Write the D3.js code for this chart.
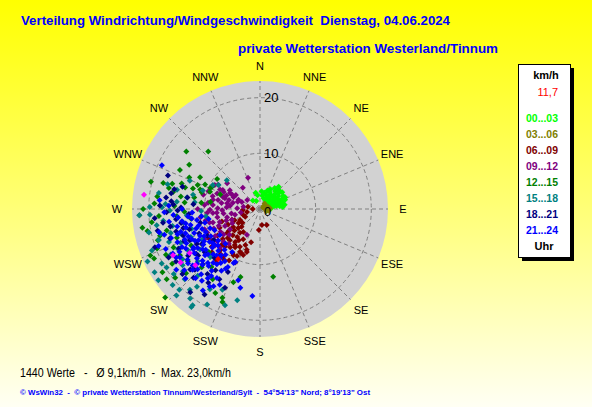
<!DOCTYPE html>
<html>
<head>
<meta charset="utf-8">
<script src="https://cdn.jsdelivr.net/npm/d3@7"></script>
<style>
  html, body { margin: 0; padding: 0; background: #fff; }
  svg { display: block; font-family: "Liberation Sans", Arial, sans-serif; }
</style>
</head>
<body>
<div class="chart"></div>
<script>
// ---- data: [direction in degrees, speed in km/h], one array per 3-hour slot ----
const h00_03 = [[30,3.5],[35,4.6],[40,4.2],[45,3.8],[50,3.2],[55,4.0],[60,3.6],[65,4.4],[70,3.0],[75,3.8],[80,4.5],[85,4.1],
  [38,2.6],[48,2.4],[58,2.8],[68,2.2],[78,2.6],[25,2.8],[20,2.0],[15,3.0],[10,2.4],[33,1.8],[52,1.6],[62,1.9],[42,3.0],
  [55,3.4],[47,4.8],[28,4.0],[88,2.0],[72,3.3],[350,2.5],[5,3.2],[60,4.8],[65,5.0],[80,3.0],[320,2.0],[335,1.6],[345,3.0],
  [36,3.2],[43,4.6],[50,4.4],[57,3.0],[63,2.7],[67,3.8],[73,4.2],[77,3.4],[82,3.6],[45,2.0],[30,2.4],[53,5.0],[40,5.2],
  [70,4.8],[22,3.6]]
const h03_06 = [[60,1.2],[75,1.5],[85,1.8],[50,0.8],[95,1.0],[70,0.6],[40,1.3],[100,1.6],[110,1.2]]
const h06_09 = [[183,3.8],[173,2.9],[157,3.1],[257,2.4],[270,1.3],[280,2.2],[267,3.1],[249,5.4],[245,8.0],[241,4.1],
  [236,5.8],[234,7.3],[228,7.8],[227,9.4],[224,7.8],[224,10.3],[220,5.6],[219,6.5],[218,8.7],[218,10.9],[216,5.1],
  [212,9.3],[210,9.6],[208,7.7],[205,8.5],[200,8.8],[198,7.7],[197,8.1],[230,6.0],[238,9.0],[232,11.0],[222,12.0],
  [215,11.2],[244,6.4],[250,3.2],[226,4.6],[214,6.8],[252,7.2],[240,10.6],[205,10.6],[195,6.2],[215,7.9],[204,8.6],
  [235,6.8],[231,8.6],[229,5.2],[226,6.8],[223,9.2],[221,10.8],[217,7.4],[213,8.2],[211,10.8],[209,6.2],[206,9.4],
  [202,7.0],[237,4.6],[242,3.0],[246,5.0],[232,4.0],[228,11.6],[219,12.4],[236,10.2]]
const h09_12 = [[339,6.0],[321,4.9],[308,7.5],[305,2.8],[302,6.4],[300,8.7],[298,9.2],[297,7.5],[297,5.6],[298,6.1],
  [291,3.5],[290,8.2],[288,7.0],[287,6.6],[284,10.5],[283,5.0],[282,7.7],[277,9.4],[275,8.5],[272,4.1],[268,6.8],
  [266,9.5],[265,7.8],[265,8.5],[257,4.6],[256,6.1],[252,7.6],[249,5.4],[247,9.0],[244,7.0],[240,8.2],[236,6.5],
  [233,9.6],[230,7.2],[226,10.0],[222,8.4],[207,5.2],[260,3.5],[278,3.0],[293,4.2],[262,10.8],[270,11.2],[280,6.0],
  [285,8.8],[295,7.2],[273,6.0],[254,8.8],[258,10.0],
  [300,5.0],[296,8.0],[292,6.5],[289,9.8],[286,5.8],[281,8.6],[279,7.0],[276,5.4],[274,10.0],[271,7.6],[269,9.0],
  [263,6.6],[261,5.2],[259,7.8],[255,9.4],[251,6.4],[248,8.0],[246,10.4],[243,5.6],[239,9.4],[235,8.0],[231,10.4],
  [228,8.8],[242,11.0],[250,10.6],[288,4.2],[294,5.2]]
const h12_15 = [[308,16.8],[318,13.9],[305,9.4],[295,9.5],[294,10.8],[294,13.9],[293,9.7],[289,9.5],[288,14.8],[288,11.3],
  [287,12.6],[286,16.4],[286,14.0],[286,10.9],[285,18.0],[281,15.9],[277,18.6],[270,21.0],[267,21.7],[261,21.4],
  [259,20.6],[253,19.2],[247,21.4],[245,21.0],[237,20.9],[231,19.6],[227,23.3],[208,17.1],[203,17.3],[202,18.0],
  [200,14.0],[196,12.7],[169,12.4],[280,12.0],[275,13.6],[272,15.4],[265,15.0],[262,12.5],[257,17.2],[251,15.8],
  [246,17.0],[242,14.0],[238,18.6],[234,16.0],[230,12.0],[225,14.8],[220,13.6],[214,15.2],[290,7.6],[298,12.2],
  [302,15.0],[284,20.2],[278,9.0],[266,18.2],
  [283,16.8],[279,14.4],[273,19.0],[268,13.6],[263,19.6],[255,18.6],[249,19.8],[244,18.8],[240,16.6],[233,21.0],
  [229,17.6],[276,10.6],[291,12.0],[296,16.0]]
const h15_18 = [[311,7.9],[297,9.5],[300,8.6],[283,15.3],[282,12.3],[279,13.3],[276,11.8],[275,15.0],[271,17.6],[271,19.8],
  [269,16.2],[267,19.8],[267,21.7],[263,17.5],[261,18.8],[258,20.4],[255,16.6],[253,19.0],[250,17.4],[247,15.5],
  [245,22.3],[243,18.0],[241,20.2],[239,22.1],[237,16.6],[235,22.3],[233,19.4],[231,17.8],[229,20.8],[227,18.5],
  [225,20.5],[223,16.4],[221,19.2],[219,18.0],[215,21.1],[215,21.5],[212,17.0],[209,19.6],[194,16.9],[260,14.0],
  [254,12.8],[248,13.4],[242,11.8],[236,13.0],[230,14.6],[226,12.4],[288,10.8],[292,13.6],[268,10.6],[262,9.8],
  [205,16.0],[200,18.4],
  [273,17.0],[265,13.2],[259,16.0],[256,18.4],[252,14.8],[249,20.8],[244,16.4],[240,14.9],[238,19.8],[234,17.2],
  [228,16.0],[224,21.6],[218,20.4],[279,18.4],[285,17.2]]
const h18_21 = [[277,17.0],[280,16.2],[283,15.8],[275,16.0],[272,18.0],[268,16.8],[265,19.0],[262,17.6],[258,18.8],
  [255,15.6],[252,17.0],[250,20.1],[247,14.8],[244,16.2],[241,13.0],[238,17.8],[235,14.0],[232,12.6],[229,16.6],
  [226,14.3],[223,12.0],[220,19.5],[216,13.6],[213,18.3],[207,12.7],[204,15.5],[210,14.6],[271,14.2],[266,12.8],
  [260,14.4],[254,13.2],[248,11.8],[243,10.6],[239,12.2],[286,14.5],[290,17.6],[279,13.2],[274,12.0],[257,11.0],[236,10.0],
  [263,15.2],[259,16.4],[256,14.2],[251,14.6],[246,13.8],[242,18.6],[237,15.4],[233,13.9],[230,18.2],[227,16.0],
  [224,17.2],[219,15.0],[215,16.2],[269,14.8],[273,15.6]]
const h21_24 = [[262,16.5],[258,15.2],[255,17.8],[252,14.1],[250,12.6],[248,16.0],[246,13.4],[244,11.2],[242,15.1],
  [240,13.8],[238,12.0],[236,17.2],[234,10.5],[232,14.4],[230,12.9],[228,16.3],[226,11.7],[224,13.5],[222,15.8],
  [220,10.9],[218,12.6],[216,14.9],[214,11.3],[212,13.1],[210,12.4],[208,15.4],[206,10.8],[205,10.5],[197,13.4],
  [194,14.6],[185,15.7],[264,13.0],[266,15.6],[268,17.2],[270,14.0],[272,16.4],[275,18.1],[294,19.3],[260,11.5],
  [256,10.2],[253,12.0],[249,9.6],[245,9.0],[241,10.1],[237,8.6],[233,9.4],[229,10.0],[225,8.8],[221,9.7],[217,10.3],
  [247,18.4],[243,17.6],[239,16.8],[235,15.9],[231,17.5],[227,18.3],[223,17.0],[219,16.6],[215,17.9],[211,16.2],
  [259,13.6],[254,14.8],[251,11.0],[245,14.6],[240,11.6],[236,14.2],[233,12.2],[228,13.9],[223,11.4],[218,14.1],
  [213,9.2],[209,11.9],[262,12.4],[257,18.6],[250,19.4],[244,13.0],[238,15.0],[234,18.6],[229,15.0],[226,15.6],
  [261,14.2],[257,12.8],[253,15.5],[249,13.8],[246,11.8],[243,12.4],[239,14.0],[237,10.8],[235,12.6],[231,11.0],
  [229,12.4],[225,10.6],[221,12.8],[219,11.4],[216,12.0],[212,14.6],[248,14.6],[252,16.8],[256,13.7],[264,14.8],
  [267,12.2],[263,10.6],[259,9.4],[255,11.4],[242,16.4],[238,13.2],[233,16.2],[230,15.8],[226,14.4],[222,13.8],
  [217,15.6],[213,16.6],[247,10.6],[244,15.6],[240,17.4],[232,10.4]]
const marked = [[277,21.0],[242,17.7],[236,17.2],[238,14.9],[229,15.4]]
const current = [[220,11.7]]

const slotLabels = ['00...03','03...06','06...09','09...12','12...15','15...18','18...21','21...24']
const slotColors = ['#00ff00','#808000','#800000','#800080','#008000','#008080','#000080','#0000ff']
const compass = ['N','NNE','NE','ENE','E','ESE','SE','SSE','S','SSW','SW','WSW','W','WNW','NW','NNW']
const ringTicks = [0, 10, 20]
const maxSpeed = 23
const currentLabel = '11,7'

const titleText = 'Verteilung Windrichtung/Windgeschwindigkeit  Dienstag, 04.06.2024'
const subTitleText = 'private Wetterstation Westerland/Tinnum'
const statsText = '1440 Werte   -   \u00d8 9,1km/h  -  Max. 23,0km/h'
const footText = '\u00a9 WsWin32  -  \u00a9 private Wetterstation Tinnum/Westerland/Sylt  -  54\u00b054\'13" Nord; 8\u00b019\'13" Ost'

const slots = [h00_03, h03_06, h06_09, h09_12, h12_15, h15_18, h18_21, h21_24]

// ---- layout ----
const W = 592, H = 407
const cx = 260, cy = 209, R = 128

const svg = d3.select('.chart').append('svg')
  .attr('width', W).attr('height', H)

const defs = svg.append('defs')
const grad = defs.append('linearGradient').attr('id', 'bg')
  .attr('x1', 0).attr('y1', 0).attr('x2', 0).attr('y2', 1)
grad.append('stop').attr('offset', '0%').attr('stop-color', '#ffff00')
grad.append('stop').attr('offset', '55%').attr('stop-color', '#ffff80')
grad.append('stop').attr('offset', '100%').attr('stop-color', '#fffff4')

svg.append('rect').attr('width', W).attr('height', H).attr('fill', 'url(#bg)')

// titles
svg.append('text').attr('x', 21).attr('y', 25)
  .attr('font-size', 13).attr('font-weight', 'bold').attr('fill', '#0000ff')
  .attr('textLength', 429).attr('lengthAdjust', 'spacingAndGlyphs')
  .style('white-space', 'pre').text(titleText)
svg.append('text').attr('x', 238).attr('y', 53)
  .attr('font-size', 13).attr('font-weight', 'bold').attr('fill', '#0000ff')
  .attr('textLength', 260).attr('lengthAdjust', 'spacingAndGlyphs')
  .text(subTitleText)

// scales
const rScale = d3.scaleLinear().domain([0, maxSpeed]).range([0, R])
const pos = d => {
  const p = d3.pointRadial(d[0] * Math.PI / 180, rScale(d[1]))
  return [cx + p[0], cy + p[1]]
}

const plot = svg.append('g')

plot.append('circle').attr('cx', cx).attr('cy', cy).attr('r', R)
  .attr('fill', '#d2d2d2')

// grid rings
plot.selectAll('.ring').data(ringTicks.filter(t => t > 0)).join('circle')
  .attr('cx', cx).attr('cy', cy).attr('r', d => rScale(d))
  .attr('fill', 'none').attr('stroke', '#808080').attr('stroke-dasharray', '4,3')

// spokes
plot.selectAll('.spoke').data(compass).join('line')
  .attr('x1', cx).attr('y1', cy)
  .attr('x2', (d, i) => cx + d3.pointRadial(i * Math.PI / 8, R)[0])
  .attr('y2', (d, i) => cy + d3.pointRadial(i * Math.PI / 8, R)[1])
  .attr('stroke', '#808080').attr('stroke-dasharray', '4,3')

// compass labels
svg.selectAll('.dir').data(compass).join('text')
  .attr('x', (d, i) => cx + d3.pointRadial(i * Math.PI / 8, 143)[0])
  .attr('y', (d, i) => cy + d3.pointRadial(i * Math.PI / 8, 143)[1])
  .attr('text-anchor', 'middle').attr('dominant-baseline', 'central')
  .attr('font-size', 11).attr('fill', '#000')
  .text(d => d)

// ring labels
svg.selectAll('.rl').data(ringTicks).join('text')
  .attr('x', cx + 4).attr('y', d => cy - rScale(d) + (d === 0 ? 2 : 0))
  .attr('dominant-baseline', 'central')
  .attr('font-size', 13).attr('fill', '#000')
  .text(d => d)

// points
const sym = d3.symbol().type(d3.symbolSquare).size(18)
const drawPts = (data, color) => {
  plot.append('g').selectAll('path').data(data).join('path')
    .attr('d', sym)
    .attr('transform', d => `translate(${pos(d)[0]},${pos(d)[1]}) rotate(45)`)
    .attr('fill', color)
}
slots.forEach((s, i) => drawPts(s, slotColors[i]))
drawPts(marked, '#ff00ff')
drawPts(current, '#ff0000')

// legend
const lg = svg.append('g')
lg.append('rect').attr('x', 522).attr('y', 68).attr('width', 52).attr('height', 193).attr('fill', '#000')
lg.append('rect').attr('x', 518.5).attr('y', 64.5).attr('width', 52).attr('height', 193)
  .attr('fill', '#fff').attr('stroke', '#000')
lg.append('text').attr('x', 546).attr('y', 79).attr('text-anchor', 'middle')
  .attr('font-size', 11).attr('font-weight', 'bold').text('km/h')
lg.append('text').attr('x', 558).attr('y', 96).attr('text-anchor', 'end')
  .attr('font-size', 11).attr('fill', '#ff0000').text(currentLabel)
lg.selectAll('.slot').data(slotLabels).join('text')
  .attr('x', 526).attr('y', (d, i) => 122 + i * 16)
  .attr('font-size', 11).attr('font-weight', 'bold')
  .attr('fill', (d, i) => slotColors[i])
  .attr('textLength', 32).attr('lengthAdjust', 'spacingAndGlyphs')
  .text(d => d)
lg.append('text').attr('x', 544).attr('y', 250).attr('text-anchor', 'middle')
  .attr('font-size', 11).attr('font-weight', 'bold').text('Uhr')

// footer
svg.append('text').attr('x', 20).attr('y', 377)
  .attr('font-size', 12).attr('fill', '#000')
  .attr('textLength', 211).attr('lengthAdjust', 'spacingAndGlyphs')
  .style('white-space', 'pre').text(statsText)
svg.append('text').attr('x', 20).attr('y', 395)
  .attr('font-size', 8).attr('font-weight', 'bold').attr('fill', '#0000ff')
  .attr('textLength', 350).attr('lengthAdjust', 'spacingAndGlyphs')
  .style('white-space', 'pre').text(footText)
</script>
</body>
</html>
